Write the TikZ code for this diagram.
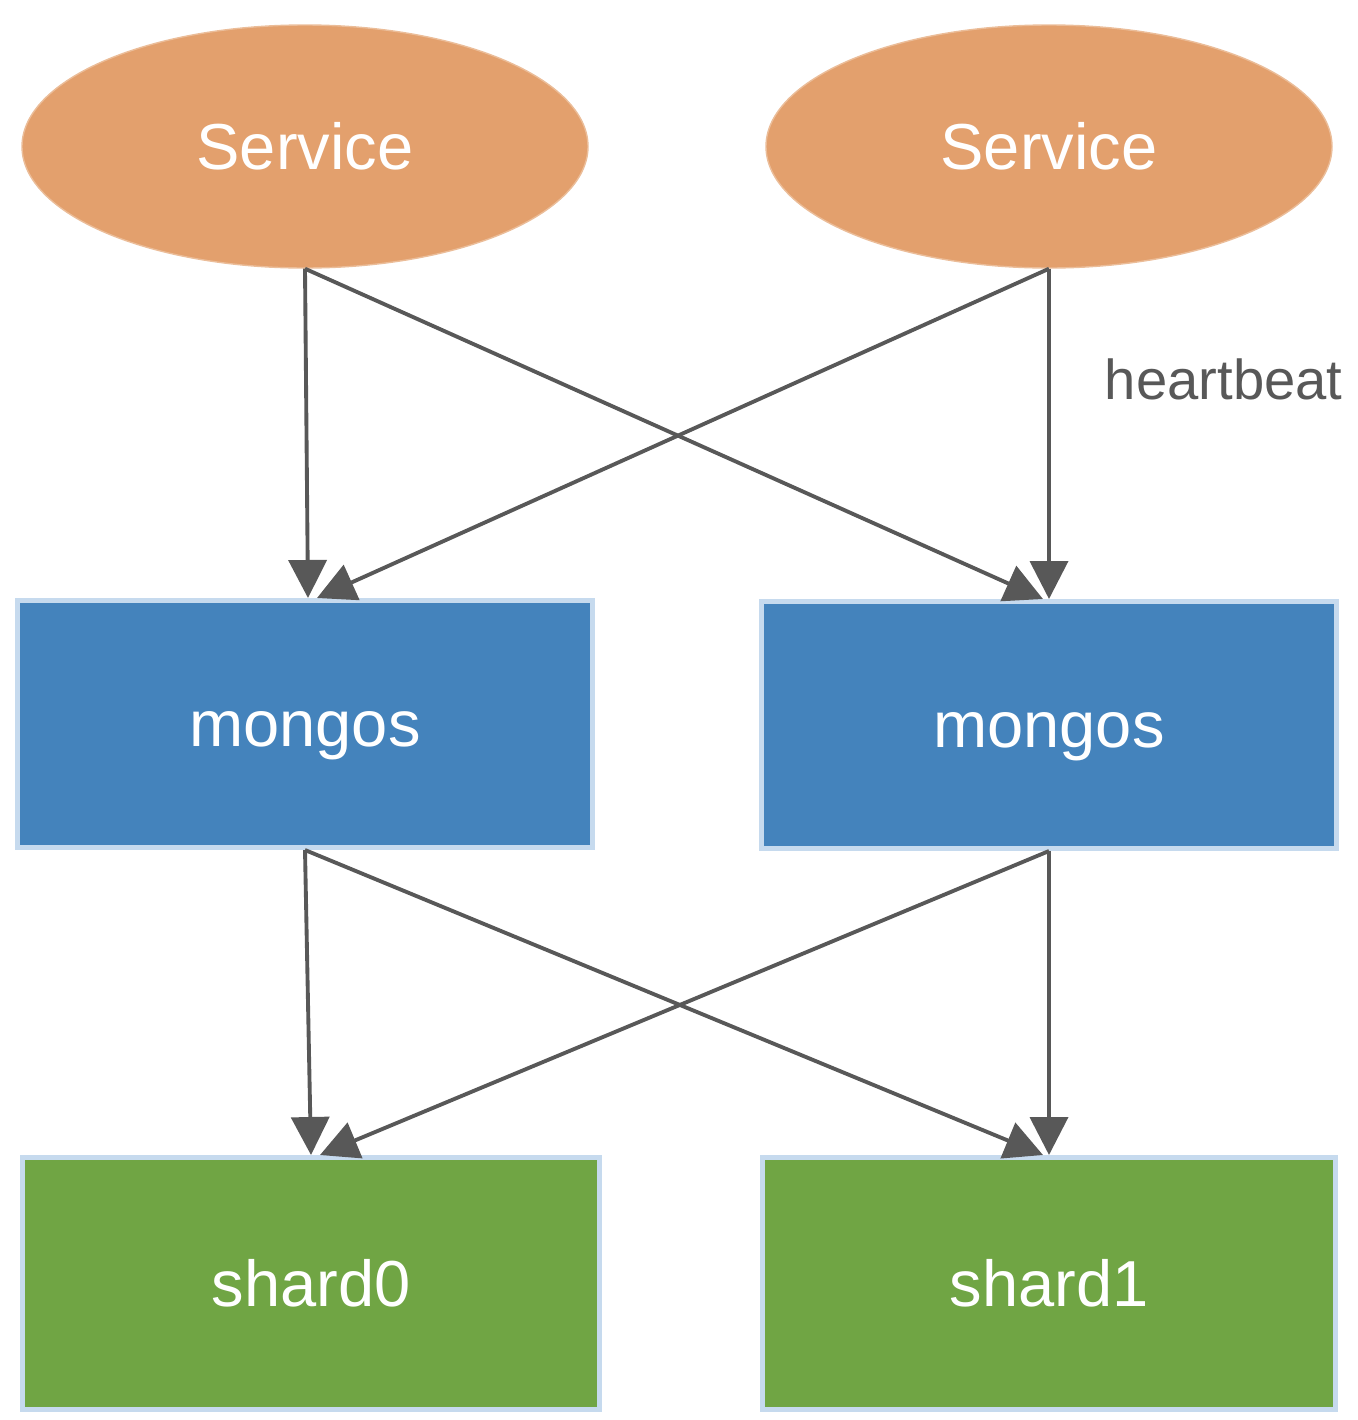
\documentclass[tikz,border=0pt]{standalone}
\usepackage{fontspec}
\setmainfont{Liberation Sans}
\usetikzlibrary{arrows.meta}
\usetikzlibrary{shapes.geometric}
\definecolor{svcorange}{HTML}{E3A06D}
\definecolor{mongosblue}{HTML}{4483BC}
\definecolor{shardgreen}{HTML}{70A544}
\definecolor{boxedge}{HTML}{C6DAEE}
\definecolor{linkgray}{HTML}{585858}
\tikzset{svc/.style = {ellipse, fill=svcorange, draw=svcorange!70!white, line width=0.4pt,
                       minimum width=5.66cm, minimum height=2.43cm,
                       text height=13pt, text depth=0pt,
                       text=white, font=\fontsize{18.5}{22}\selectfont},
         box/.style = {rectangle, draw=boxedge, line width=0.5mm,
                       minimum width=5.75cm, minimum height=2.47cm,
                       text height=13pt, text depth=0pt,
                       text=white, font=\fontsize{18.5}{22}\selectfont},
         link/.style = {draw=linkgray, line width=1.1pt,
                        -{Triangle[length=3.8mm,width=3.8mm]}}}

\begin{document}
\begin{tikzpicture}
      \useasboundingbox (0, 0) rectangle (13.58, -14.20);

      \node [svc] (s1) at (3.05, -1.465) {Service};
      \node [svc] (s2) at (10.49, -1.465) {Service};

      \node [box, fill=mongosblue] (m1) at (3.05, -7.24) {mongos};
      \node [box, fill=mongosblue] (m2) at (10.49, -7.25) {mongos};

      \node [box, fill=shardgreen, minimum width=5.77cm, minimum height=2.52cm] (sh0) at (3.11, -12.835) {shard0};
      \node [box, fill=shardgreen, minimum width=5.73cm, minimum height=2.52cm] (sh1) at (10.49, -12.835) {shard1};

      % services -> mongos
      \draw [link] (s1.south) -- ([xshift=0.3mm]m1.north);
      \draw [link] (s2.south) -- ([xshift=1.2mm]m1.north);
      \draw [link] (s1.south) -- ([xshift=-0.6mm]m2.north);
      \draw [link] (s2.south) -- (m2.north)
        node [pos=0.335, anchor=west, inner sep=0, xshift=5.4mm, text=linkgray,
              font=\fontsize{16}{19}\selectfont] (hb) {heartbeat};

      % mongos -> shards
      \draw [link] (m1.south) -- (sh0.north);
      \draw [link] (m2.south) -- ([xshift=0.9mm]sh0.north);
      \draw [link] (m1.south) -- ([xshift=-0.6mm]sh1.north);
      \draw [link] (m2.south) -- (sh1.north);
\end{tikzpicture}
\end{document}
